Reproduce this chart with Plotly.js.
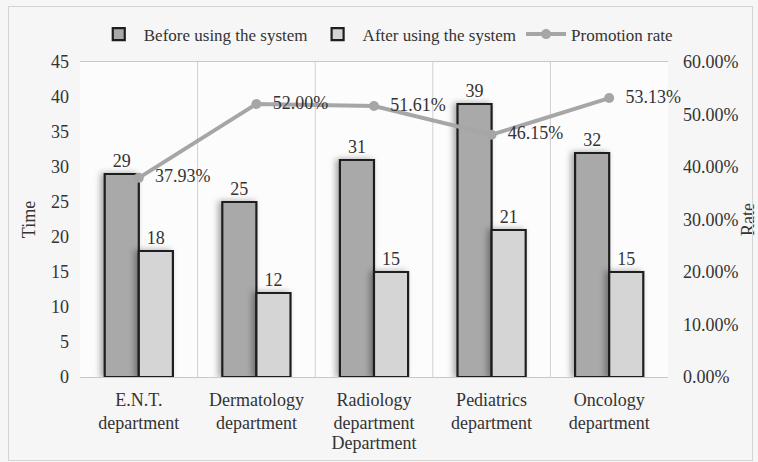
<!DOCTYPE html>
<html>
<head>
<meta charset="utf-8">
<script src="https://cdn.plot.ly/plotly-3.0.1.min.js"></script>
<style>
  html, body { margin: 0; padding: 0; background: #f6f6f6; }
  #wrap { position: relative; width: 758px; height: 462px; }
  #chart { width: 758px; height: 462px; }
  #frame { position: absolute; left: 8px; top: 6px; width: 743px; height: 453px;
           border: 1px solid #d4d4d4; pointer-events: none; }
  #chart .trace.bars path { filter: drop-shadow(-3px 0 3px rgba(0,0,0,0.35)); }
</style>
</head>
<body>
<div id="wrap">
  <div id="chart"></div>
  <div id="frame"></div>
</div>
<script>
// Departments and their consultation times before / after the system, plus promotion rate
const departments = ["E.N.T.<br>department", "Dermatology<br>department", "Radiology<br>department",
                     "Pediatrics<br>department", "Oncology<br>department"];
const beforeTime = [29, 25, 31, 39, 32];
const afterTime = [18, 12, 15, 21, 15];
const promotionRate = [37.93, 52.00, 51.61, 46.15, 53.13];

const xIdx = departments.map((_, i) => i);
const serif = "Liberation Serif, Times New Roman, serif";
const textColor = "#333333";
const fs = 18;

const traces = [
  {
    type: "bar", name: "Before using the system",
    x: xIdx, y: beforeTime,
    text: beforeTime.map(String), textposition: "outside", cliponaxis: false,
    textfont: { family: serif, size: fs, color: textColor },
    marker: { color: "#a9a9a9", line: { color: "#1e1e1e", width: 2.2 } }
  },
  {
    type: "bar", name: "After using the system",
    x: xIdx, y: afterTime,
    text: afterTime.map(String), textposition: "outside", cliponaxis: false,
    textfont: { family: serif, size: fs, color: textColor },
    marker: { color: "#d5d5d5", line: { color: "#1e1e1e", width: 2.2 } }
  },
  {
    type: "scatter", mode: "lines+markers+text", name: "Promotion rate",
    x: xIdx, y: promotionRate, yaxis: "y2",
    // leading non-breaking spaces keep the rate labels clear of the markers
    text: promotionRate.map(v => "\u00a0\u00a0" + v.toFixed(2) + "%"), textposition: "middle right",
    cliponaxis: false,
    textfont: { family: serif, size: fs, color: textColor },
    line: { color: "#a6a6a6", width: 4 },
    marker: { color: "#a6a6a6", size: 10 }
  }
];

// category separators drawn on the x scale between groups
const separators = [0.5, 1.5, 2.5, 3.5].map(v => ({
  type: "line", xref: "x", yref: "paper", x0: v, x1: v, y0: 0, y1: 1,
  line: { color: "#d0d0d0", width: 1 }, layer: "below"
}));

const layout = {
  width: 758, height: 462,
  margin: { l: 80, r: 90, t: 62, b: 85 },
  paper_bgcolor: "rgba(0,0,0,0)",
  plot_bgcolor: "#fcfcfc",
  font: { family: serif, size: fs, color: textColor },
  barmode: "group", bargap: 0.42, bargroupgap: 0,
  showlegend: true,
  legend: {
    orientation: "h", x: 0.52, xanchor: "center", y: 1.03, yanchor: "bottom",
    font: { family: serif, size: 17, color: textColor },
    bgcolor: "rgba(0,0,0,0)", itemwidth: 40, traceorder: "normal"
  },
  xaxis: {
    tickmode: "array", tickvals: xIdx, ticktext: departments,
    range: [-0.5, 4.5], showgrid: false, zeroline: false,
    showline: true, linecolor: "#c8c8c8", mirror: true, ticks: "",
    ticklabelstandoff: 6,
    tickfont: { family: serif, size: fs, color: textColor },
    title: { text: "Department", font: { family: serif, size: fs, color: textColor }, standoff: 1 }
  },
  yaxis: {
    range: [0, 45], dtick: 5, showgrid: false, zeroline: false,
    showline: false, ticks: "", ticklabelstandoff: 10,
    tickfont: { family: serif, size: fs, color: textColor },
    title: { text: "Time", font: { family: serif, size: fs, color: textColor }, standoff: 10 }
  },
  yaxis2: {
    overlaying: "y", side: "right", range: [0, 60], dtick: 10,
    showgrid: false, zeroline: false, showline: false, ticks: "",
    tickformat: ".2f", ticksuffix: "%", ticklabelstandoff: 14,
    tickfont: { family: serif, size: fs, color: textColor },
    title: { text: "Rate", font: { family: serif, size: fs, color: textColor }, standoff: 16 }
  },
  shapes: separators
};

Plotly.newPlot("chart", traces, layout, { displayModeBar: false, staticPlot: true });
</script>
</body>
</html>
